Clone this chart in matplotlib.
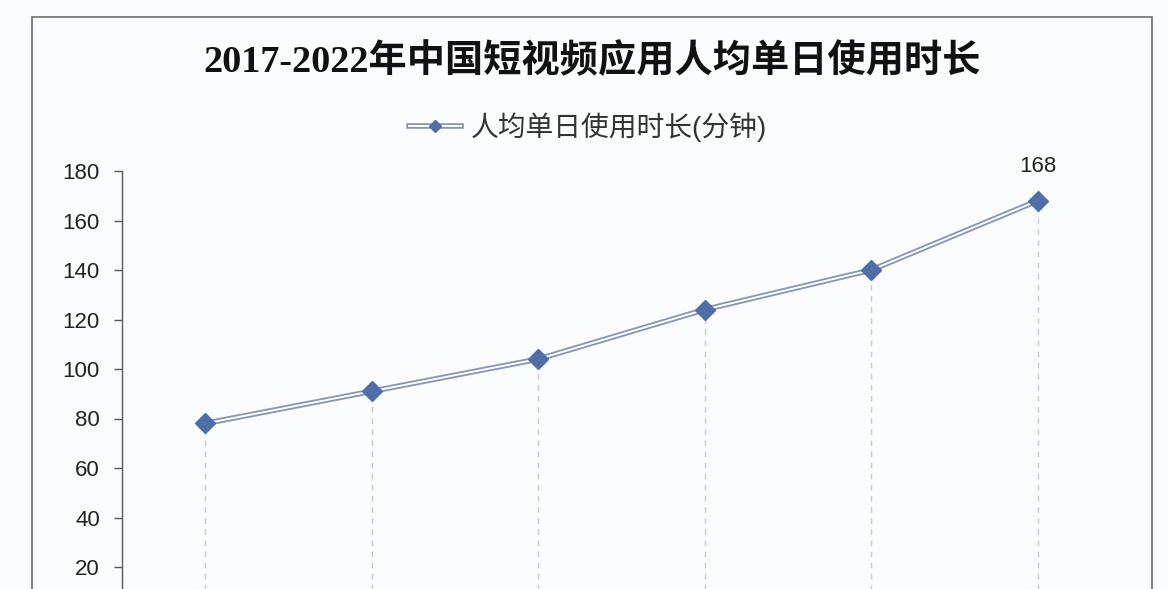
import matplotlib.pyplot as plt
from matplotlib.patches import Rectangle
from matplotlib.lines import Line2D
import matplotlib.patheffects as pe

plt.rcParams['font.family'] = ['Liberation Sans', 'Noto Sans CJK SC', 'DejaVu Sans']

years = ['2017', '2018', '2019', '2020', '2021', '2022']
minutes = [78, 91, 104, 124, 140, 168]
yticks = [20, 40, 60, 80, 100, 120, 140, 160, 180]

title = '2017-2022年中国短视频应用人均单日使用时长'
series_name = '人均单日使用时长(分钟)'

W, H = 1168, 589
fig = plt.figure(figsize=(W / 100, H / 100), dpi=100, facecolor='#fbfcfe')

# outer frame of the chart area (runs off the bottom of the picture)
fig.patches.append(Rectangle((32 / W, -0.2), (1152 - 32) / W, 1.2 - 17 / H,
                             transform=fig.transFigure, fill=False,
                             edgecolor='#6b6b72', linewidth=1.2))

# axes: y=180 at 171 px, y=0 at ~616 px (below the visible area)
top, bot = 171, 616.5
ax = fig.add_axes([122 / W, 1 - bot / H, (1121 - 122) / W, (bot - top) / H])
ax.set_facecolor('none')

x = list(range(len(years)))

# dashed drop lines
for xi, v in zip(x, minutes):
    ax.plot([xi, xi], [0, v], color='#c9cad2', linewidth=1.0,
            linestyle=(0, (4, 4)), zorder=1)

# double line: thick blue-gray with a thin white core
line_fx = [pe.Stroke(linewidth=4.0, foreground='#8595b8'),
           pe.Stroke(linewidth=1.4, foreground='white')]
ax.plot(x, minutes, color='white', linewidth=0.01, path_effects=line_fx, zorder=2)
ax.plot(x, minutes, linestyle='none', marker='D', markersize=10,
        markerfacecolor='#4f6da6', markeredgecolor='#4f6da6', zorder=3)

ax.annotate(str(minutes[-1]), (x[-1], minutes[-1]), xytext=(0, 17),
            textcoords='offset points', ha='center', va='bottom',
            fontsize=16, color='#222222')

ax.set_xlim(-0.5, len(years) - 0.5)
ax.set_ylim(0, 180)
ax.set_yticks(yticks)
ax.set_xticks([])
ax.tick_params(axis='y', direction='out', length=6, width=1.0,
               color='#55555f', labelsize=16, labelcolor='#222222', pad=10)
for s in ['top', 'right', 'bottom']:
    ax.spines[s].set_visible(False)
ax.spines['left'].set_color('#55555f')
ax.spines['left'].set_linewidth(1.0)

fig.text(592 / W, 1 - 62 / H, title, ha='center', va='center',
         fontsize=27.5, fontweight='bold', color='#111111',
         family=['Liberation Serif', 'Noto Sans CJK SC'])

# legend: double line plus a small diamond
h_line = Line2D([0], [0], color='white', linewidth=0.01, path_effects=line_fx)
h_mark = Line2D([0], [0], linestyle='none', marker='D', markersize=6,
                markerfacecolor='#4f6da6', markeredgecolor='#4f6da6')
fig.legend([(h_line, h_mark)], [series_name], loc='center',
           bbox_to_anchor=(588 / W, 1 - 127 / H),
           frameon=False, fontsize=20, handlelength=1.9, handletextpad=0.35,
           labelcolor='#333333')

fig.savefig('out.png', dpi=100, facecolor=fig.get_facecolor())
